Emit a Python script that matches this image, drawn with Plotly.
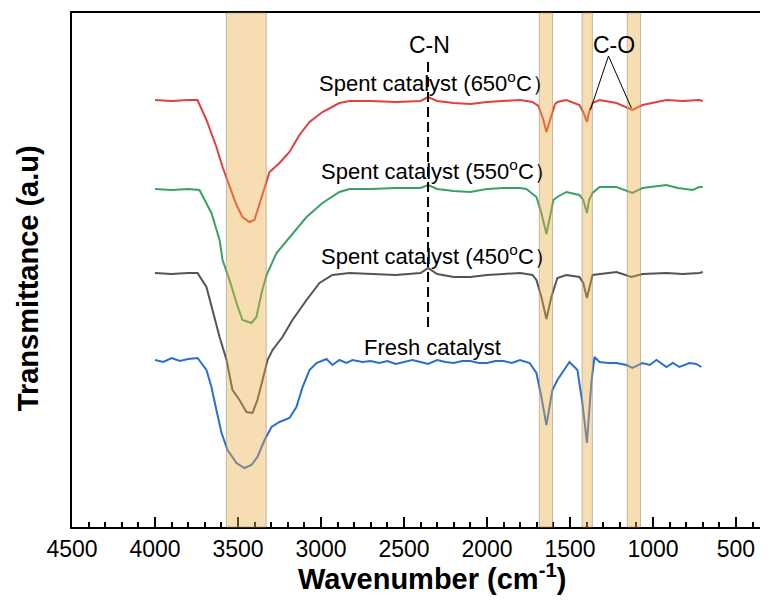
import plotly.graph_objects as go

# ---------------- data (wavenumber in cm-1, transmittance in a.u.) ----------------
wn_650 = [4000, 3900, 3800, 3744, 3690, 3630, 3593, 3551, 3509, 3473, 3431, 3401, 3370, 3340,
          3310, 3250, 3190, 3130, 3069, 2991, 2889, 2828, 2700, 2550, 2400, 2355, 2300, 2200,
          2100, 2000, 1900, 1800, 1726, 1690, 1660, 1642, 1620, 1590, 1576, 1522, 1443, 1420,
          1398, 1385, 1364, 1322, 1220, 1160, 1124, 1063, 1000, 919, 820, 720, 700]
t_650 = [427, 426, 427, 427, 407, 380, 360, 340, 322, 310, 305, 307, 324, 340,
         355, 364, 375, 392, 405, 415, 424, 426, 426, 425, 426, 430, 426, 424,
         423, 425, 426, 427, 425, 421, 407, 395, 407, 423, 425, 427, 422, 415,
         405, 415, 424, 427, 424, 420, 417, 422, 424, 427, 426, 427, 426]

wn_550 = [4000, 3900, 3800, 3732, 3660, 3611, 3593, 3551, 3509, 3473, 3419, 3389, 3358, 3328,
          3268, 3190, 3087, 2991, 2889, 2828, 2700, 2550, 2400, 2355, 2300, 2200, 2100, 2000,
          1900, 1800, 1763, 1702, 1672, 1642, 1620, 1600, 1576, 1522, 1443, 1420, 1398, 1385,
          1364, 1322, 1220, 1124, 1063, 919, 850, 760, 720, 700]
t_550 = [338, 337, 338, 337, 314, 287, 267, 247, 224, 207, 204, 210, 234, 252,
         274, 290, 310, 324, 335, 338, 338, 339, 339, 342, 338, 336, 335, 338,
         339, 339, 338, 330, 314, 293, 312, 327, 330, 335, 332, 327, 314, 327,
         334, 340, 340, 334, 339, 342, 339, 337, 340, 340]

wn_450 = [4000, 3900, 3800, 3744, 3690, 3654, 3611, 3569, 3533, 3491, 3449, 3413, 3383, 3352,
          3322, 3292, 3232, 3172, 3087, 3009, 2931, 2828, 2700, 2550, 2400, 2355, 2300, 2200,
          2100, 2000, 1900, 1800, 1726, 1702, 1672, 1642, 1612, 1576, 1522, 1443, 1420, 1398,
          1364, 1262, 1220, 1130, 1063, 919, 820, 720, 700]
t_450 = [254, 253, 254, 254, 240, 217, 190, 167, 137, 127, 115, 114, 127, 147,
         167, 177, 190, 207, 227, 244, 252, 254, 253, 252, 254, 259, 253, 250,
         250, 252, 253, 254, 252, 247, 230, 208, 230, 249, 252, 250, 244, 229,
         252, 254, 255, 250, 253, 254, 253, 254, 255]

wn_fresh = [4000, 3950, 3900, 3850, 3800, 3744, 3690, 3660, 3630, 3599, 3563, 3509, 3461, 3419,
            3383, 3340, 3298, 3250, 3190, 3148, 3111, 3069, 3027, 2967, 2931, 2889, 2847, 2810,
            2750, 2700, 2650, 2600, 2550, 2500, 2450, 2400, 2355, 2300, 2250, 2200, 2150, 2100,
            2050, 2000, 1950, 1900, 1850, 1801, 1743, 1702, 1672, 1642, 1606, 1576, 1503, 1455,
            1425, 1398, 1370, 1352, 1322, 1270, 1220, 1160, 1124, 1063, 1020, 979, 919, 880,
            841, 780, 740, 708]
t_fresh = [167, 165, 169, 166, 168, 169, 157, 140, 117, 94, 77, 64, 59, 62,
           70, 87, 100, 105, 109, 120, 140, 157, 164, 168, 162, 167, 164, 167,
           165, 166, 164, 166, 163, 165, 167, 165, 163, 167, 165, 164, 166, 166,
           164, 164, 166, 166, 164, 167, 164, 154, 130, 102, 137, 147, 165, 157,
           124, 84, 147, 170, 165, 164, 164, 162, 159, 164, 162, 167, 160, 164,
           160, 164, 163, 160]

series_names = ["Spent catalyst (650<sup>o</sup>C）", "Spent catalyst (550<sup>o</sup>C）",
                "Spent catalyst (450<sup>o</sup>C）", "Fresh catalyst"]
series_colors = ["#e0403f", "#3aa066", "#545454", "#2a6fd0"]
label_pos = [(2305, 445), (2295, 357), (2290, 272), (2330, 180)]

bands = [(3570, 3330), (1685, 1605), (1427, 1365), (1155, 1075)]
cn_pos = 2355
cn_span = (200, 467)
co_apex = (1268, 471)
co_ends = [(1377, 417), (1130, 419)]

x_ticks = [4500, 4000, 3500, 3000, 2500, 2000, 1500, 1000, 500]

FONT = "Arial, 'Liberation Sans', sans-serif"

fig = go.Figure()
series = [(wn_650, t_650), (wn_550, t_550), (wn_450, t_450), (wn_fresh, t_fresh)]
for (xs, ys), name, col in zip(series, series_names, series_colors):
    fig.add_trace(go.Scatter(x=xs, y=ys, mode="lines", name=name,
                             line=dict(color=col, width=2), showlegend=False))

shapes = []
for a, b in bands:
    shapes.append(dict(type="rect", xref="x", yref="paper", x0=a, x1=b, y0=0, y1=1,
                       fillcolor="rgba(235,172,62,0.40)",
                       line=dict(color="rgba(150,140,120,0.55)", width=1), layer="above"))
shapes.append(dict(type="line", xref="x", yref="y", x0=cn_pos, x1=cn_pos,
                   y0=cn_span[0], y1=cn_span[1],
                   line=dict(color="black", width=2, dash="10px,5px")))
for ex, ey in co_ends:
    shapes.append(dict(type="line", xref="x", yref="y", x0=co_apex[0], y0=co_apex[1],
                       x1=ex, y1=ey, line=dict(color="black", width=1)))

annotations = []
for name, (lx, ly) in zip(series_names, label_pos):
    annotations.append(dict(x=lx, y=ly, xref="x", yref="y", text=name, showarrow=False,
                            xanchor="center", yanchor="middle",
                            font=dict(size=22, color="black", family=FONT)))
annotations.append(dict(x=2345, y=482, xref="x", yref="y", text="C-N", showarrow=False,
                        font=dict(size=23, color="black", family=FONT)))
annotations.append(dict(x=1232, y=482, xref="x", yref="y", text="C-O", showarrow=False,
                        font=dict(size=23, color="black", family=FONT)))
# axis titles
annotations.append(dict(x=0.517, y=0, xref="paper", yref="paper", yshift=-50,
                        xanchor="center", yanchor="middle", showarrow=False,
                        text="<b>Wavenumber (cm<sup>-1</sup>)</b>",
                        font=dict(size=29, color="black", family=FONT)))
annotations.append(dict(x=0, y=0.484, xref="paper", yref="paper", xshift=-44,
                        xanchor="center", yanchor="middle", showarrow=False, textangle=-90,
                        text="<b>Transmittance (a.u)</b>",
                        font=dict(size=29, color="black", family=FONT)))

# the page body adds an 8px offset, so the figure is 8px smaller than the window
fig.update_layout(
    width=760, height=595,
    margin=dict(l=64, r=0, t=5, b=76, autoexpand=False),
    paper_bgcolor="white", plot_bgcolor="white",
    shapes=shapes, annotations=annotations,
    font=dict(family=FONT, color="black"),
)
fig.update_xaxes(
    range=[4500, 307], showgrid=False, zeroline=False, automargin=False,
    showline=True, linecolor="black", linewidth=2, mirror=True,
    ticks="inside", ticklen=10, tickwidth=1.5, tickcolor="black",
    tickvals=x_ticks, tickfont=dict(size=23, color="black", family=FONT),
    minor=dict(ticks="inside", ticklen=5, tickwidth=1.5, tickcolor="black", dtick=100, tick0=0),
)
fig.update_yaxes(
    range=[0, 514], showgrid=False, zeroline=False, showticklabels=False, automargin=False,
    showline=True, linecolor="black", linewidth=2, ticks="",
)

fig.write_html("out.html")
